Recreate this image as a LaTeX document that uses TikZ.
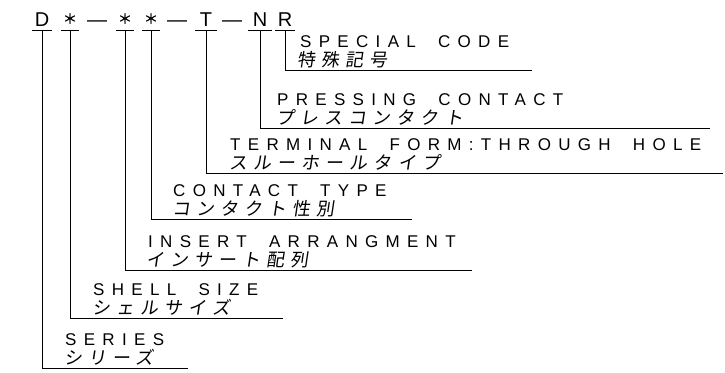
\documentclass[tikz,border=0pt]{standalone}
\usepackage{fontspec}
\setmainfont{Liberation Sans}
\newfontfamily\engfont[LetterSpace=43,WordSpace=1.85]{Liberation Sans}
\newfontfamily\jpfont[FakeSlant=0.15,LetterSpace=34]{Noto Sans CJK JP}
\newfontfamily\cjkfont[FakeBold=1.5]{Noto Sans CJK JP}

\begin{document}
\begin{tikzpicture}[
  x=1pt, y=-1pt,
  code/.style={anchor=south, inner sep=0pt, text height=15pt, text depth=3pt, font=\fontsize{20}{20}\selectfont},
  star/.style={code, font=\fontsize{14}{14}\cjkfont},
  eng/.style={anchor=base west, inner sep=0pt, font=\fontsize{17}{17}\engfont},
  jp/.style={anchor=base west, inner sep=0pt, font=\fontsize{18}{18}\jpfont},
  lead/.style={line width=1pt},
]
\useasboundingbox (0,0) rectangle (725,372);

% Part number
\node[code, minimum width=20pt] (cD) at (42,30) {D};
\node[star, minimum width=17pt] (cS) at (70,30) {\raisebox{3pt}{＊}};
\node[code] (d1) at (97,30) {---};
\node[star, minimum width=18pt] (cI) at (125,30) {\raisebox{3pt}{＊}};
\node[star, minimum width=17pt] (cC) at (151,30) {\raisebox{3pt}{＊}};
\node[code] (d2) at (177,30) {---};
\node[code, minimum width=22pt] (cT) at (206,30) {T};
\node[code] (d3) at (232,30) {---};
\node[code, minimum width=24pt] (cN) at (260,30) {N};
\node[code, minimum width=20pt] (cR) at (285,30) {R};
\foreach \c in {cD,cS,cI,cC,cT,cN,cR}
  \draw[lead] (\c.south west) -- (\c.south east);

% Explanations
\node[eng] (specEn) at (300,47) {SPECIAL CODE};
\node[jp] (specJp) at (297,66) {特殊記号};
\node[eng] (pressEn) at (277,105) {PRESSING CONTACT};
\node[jp] (pressJp) at (276,124) {プレスコンタクト};
\node[eng] (termEn) at (230,150) {TERMINAL FORM:THROUGH HOLE};
\node[jp] (termJp) at (229,169) {スルーホールタイプ};
\node[eng] (contEn) at (173,196) {CONTACT TYPE};
\node[jp] (contJp) at (172,215) {コンタクト性別};
\node[eng] (insEn) at (148,247) {INSERT ARRANGMENT};
\node[jp] (insJp) at (146,266) {インサート配列};
\node[eng] (shellEn) at (93,295) {SHELL SIZE};
\node[jp] (shellJp) at (92,314) {シェルサイズ};
\node[eng] (serEn) at (65,345) {SERIES};
\node[jp] (serJp) at (64,364) {シリーズ};

% Leader lines
\coordinate (specEnd) at (532,70);
\coordinate (pressEnd) at (710,128);
\coordinate (termEnd) at (723,173);
\coordinate (contEnd) at (412,219);
\coordinate (insEnd) at (472,270);
\coordinate (shellEnd) at (283,318);
\coordinate (serEnd) at (188,368);
\draw[lead] (cR.south) |- (specEnd);
\draw[lead] (cN.south) |- (pressEnd);
\draw[lead] (cT.south) |- (termEnd);
\draw[lead] (cC.south) |- (contEnd);
\draw[lead] (cI.south) |- (insEnd);
\draw[lead] (cS.south) |- (shellEnd);
\draw[lead] (cD.south) |- (serEnd);

\end{tikzpicture}
\end{document}
